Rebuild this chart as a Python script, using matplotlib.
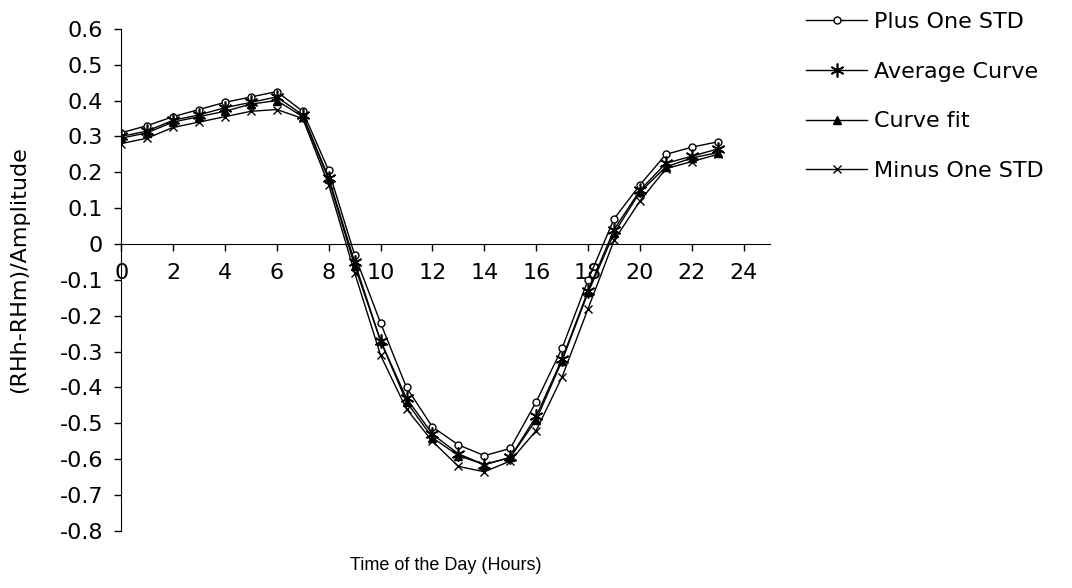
import matplotlib
matplotlib.use("Agg")
import matplotlib.pyplot as plt

plt.rcParams['font.family'] = ['DejaVu Sans']

hours = list(range(24))
plus_std = [0.31, 0.33, 0.355, 0.375, 0.395, 0.41, 0.425, 0.37, 0.205, -0.03, -0.22, -0.40, -0.51, -0.56, -0.59, -0.57, -0.44, -0.29, -0.10, 0.07, 0.165, 0.25, 0.27, 0.285]
average = [0.30, 0.315, 0.345, 0.36, 0.38, 0.395, 0.41, 0.36, 0.185, -0.05, -0.27, -0.43, -0.53, -0.585, -0.615, -0.595, -0.48, -0.32, -0.13, 0.04, 0.15, 0.225, 0.245, 0.265]
curve_fit = [0.295, 0.31, 0.34, 0.355, 0.37, 0.39, 0.40, 0.355, 0.18, -0.06, -0.27, -0.44, -0.54, -0.59, -0.615, -0.595, -0.49, -0.325, -0.135, 0.03, 0.145, 0.215, 0.24, 0.255]
minus_std = [0.28, 0.295, 0.325, 0.34, 0.355, 0.37, 0.375, 0.35, 0.165, -0.08, -0.31, -0.46, -0.55, -0.62, -0.635, -0.605, -0.52, -0.37, -0.18, 0.01, 0.12, 0.21, 0.23, 0.25]

fig = plt.figure(figsize=(10.72, 5.88), dpi=100)
ax = fig.add_axes([0.113, 0.097, 0.605, 0.854])

ax.plot(hours, plus_std, color='black', lw=1, marker='o', ms=5, mfc='white', mec='black', mew=1, label='Plus One STD')
ax.plot(hours, average, color='black', lw=1, marker=(6, 2, 0), ms=10, mec='black', mew=1.2, label='Average Curve')
ax.plot(hours, curve_fit, color='black', lw=1, marker='^', ms=6, mfc='black', mec='black', label='Curve fit')
ax.plot(hours, minus_std, color='black', lw=1, marker='x', ms=6, mec='black', mew=1, label='Minus One STD')

ax.set_xlim(0, 25)
ax.set_ylim(-0.8, 0.6)
ax.set_xticks(range(0, 25, 2))
ax.set_yticks([round(-0.8 + 0.1 * k, 1) for k in range(15)])
ax.set_yticklabels(['0' if abs(v) < 1e-9 else '%g' % v for v in ax.get_yticks()])

ax.spines['left'].set_position(('data', 0))
ax.spines['bottom'].set_position(('data', 0))
ax.spines['right'].set_visible(False)
ax.spines['top'].set_visible(False)
ax.tick_params(direction='out', length=5, width=1, labelsize=16, colors='black')
ax.tick_params(axis='y', pad=8)
ax.tick_params(axis='x', pad=9)

ax.set_xlabel('Time of the Day (Hours)', fontsize=13, family='Liberation Sans')
ax.xaxis.set_label_coords(0.5, -0.052)
ax.set_ylabel('(RHh-RHm)/Amplitude', fontsize=16)
ax.yaxis.set_label_coords(-0.142, 0.52)

fig.legend(loc='upper left', bbox_to_anchor=(0.752, 0.98), frameon=False,
           fontsize=16, handlelength=2.75, handletextpad=0.3, labelspacing=1.34,
           borderpad=0, borderaxespad=0)

fig.savefig('out.png', dpi=100)
